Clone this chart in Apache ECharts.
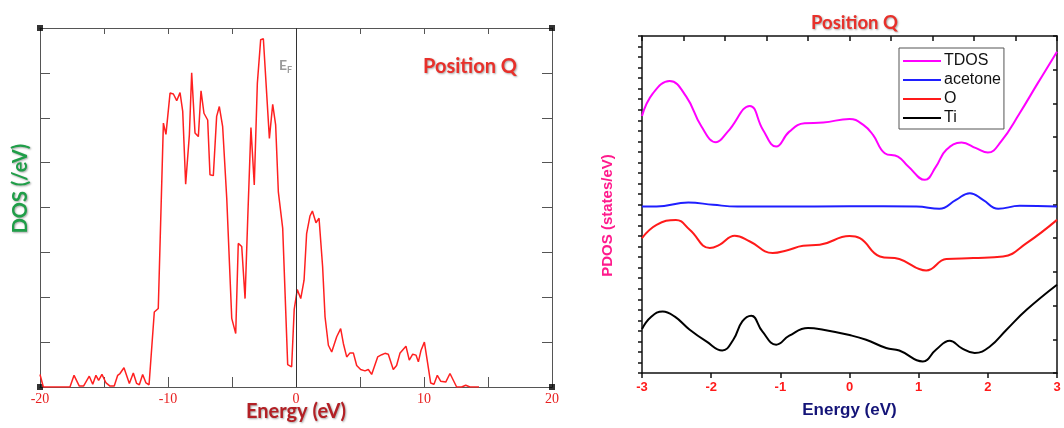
<!DOCTYPE html>
<html><head><meta charset="utf-8">
<script src="https://cdn.jsdelivr.net/npm/echarts@6/dist/echarts.min.js"></script>
<style>html,body{margin:0;padding:0;background:#fff}#c{width:1064px;height:428px}</style>
</head><body><div id="c"></div>
<script>
// ---- Left panel: total DOS ----
var dosE = [-20,-19.74,-17.66,-17.34,-16.93,-16.6,-16.15,-15.88,-15.63,-15.42,-15.16,-14.84,-14.53,-14.2,-13.93,-13.75,-13.44,-13.02,-12.71,-12.45,-12.24,-11.98,-11.72,-11.48,-11.07,-10.76,-10.36,-10.16,-9.84,-9.58,-9.32,-9.06,-8.85,-8.62,-8.33,-8.15,-7.89,-7.63,-7.42,-7.19,-6.9,-6.72,-6.46,-6.2,-5.99,-5.73,-5.41,-5.02,-4.71,-4.51,-4.24,-3.98,-3.77,-3.52,-3.26,-3.02,-2.76,-2.55,-2.08,-1.82,-1.59,-1.38,-1.04,-0.65,-0.34,-0.14,0.1,0.37,0.63,0.83,1.09,1.28,1.56,1.8,2.08,2.27,2.53,2.79,3.18,3.49,3.7,3.96,4.22,4.48,4.74,5.05,5.39,5.65,5.91,6.38,6.7,6.95,7.21,7.6,7.86,8.13,8.59,8.85,9.12,9.38,9.56,9.77,10.03,10.29,10.52,10.78,11.04,11.3,11.7,12.03,12.29,12.55,12.94,13.26,13.59,14.3];
var dosV = [0.28,0,0,0.26,0.02,0.02,0.24,0.06,0.26,0.15,0.28,0.09,0.02,0.02,0.26,0.3,0.43,0.08,0.31,0.08,0.05,0.28,0.09,0.05,1.67,1.75,5.88,5.63,6.55,6.53,6.38,6.56,6.14,4.52,5.62,7.0,5.66,5.58,6.6,6.1,5.95,4.73,4.71,6.03,6.25,5.8,4.2,1.53,1.19,3.2,3.13,1.97,3.76,5.78,4.5,6.77,7.74,7.76,5.54,6.3,5.84,4.35,3.54,0.5,0.45,1.73,2.17,1.97,2.38,3.42,3.81,3.92,3.66,3.76,2.68,1.56,0.93,0.78,1.12,1.3,0.97,0.67,0.76,0.76,0.48,0.39,0.36,0.39,0.28,0.67,0.72,0.75,0.73,0.39,0.48,0.76,0.91,0.6,0.73,0.71,0.56,0.82,1.0,0.52,0.09,0.06,0.26,0.13,0.11,0.3,0.15,0,0,0.04,0,0];
var leftCorners = [[-20,0],[20,0],[-20,8],[20,8]];

// ---- Right panel: PDOS ----
var tdosE = [-3,-2.84,-2.6,-2.36,-2.14,-1.93,-1.76,-1.44,-1.25,-1.06,-0.87,-0.65,-0.38,0.0,0.2,0.34,0.51,0.7,0.85,1.09,1.25,1.4,1.62,1.83,2.0,2.19,2.46,2.72,3.0];
var tdosV = [24.41,26.57,27.73,26.24,23.4,21.92,22.92,25.36,23.08,21.5,22.92,23.72,23.78,24.13,23.56,22.61,20.87,20.55,19.6,18.34,19.6,21.19,21.88,21.35,20.93,21.97,24.67,27.5,30.51];
var acetE = [-3,-2.79,-2.33,-1.97,-1.62,-1.0,0.0,0.97,1.3,1.54,1.74,1.93,2.15,2.46,3.0];
var acetV = [15.81,15.81,16.19,15.97,15.81,15.81,15.83,15.81,15.59,16.44,17.08,16.44,15.59,15.87,15.81];
var oE = [-3,-2.79,-2.51,-2.31,-2.02,-1.88,-1.66,-1.44,-1.11,-0.91,-0.67,-0.43,0.0,0.15,0.44,0.72,1.11,1.4,1.79,2.22,2.56,3.0];
var oV = [12.81,14.07,14.54,13.6,11.86,12.17,13.03,12.49,11.39,11.63,12.08,12.17,13.0,12.8,11.06,10.82,9.73,10.82,10.91,11.06,12.33,14.54];
var tiE = [-3,-2.87,-2.7,-2.53,-2.31,-2.07,-1.84,-1.68,-1.55,-1.42,-1.26,-1.06,-0.87,-0.6,-0.38,0.0,0.24,0.53,0.72,1.06,1.25,1.45,1.62,1.81,2.03,2.27,2.56,3.0];
var tiV = [4.17,5.31,5.85,5.37,4.11,3.0,2.14,3.16,4.9,5.44,3.95,2.69,3.54,4.27,4.11,3.6,3.16,2.37,2.14,1.1,2.21,3.06,2.37,1.9,2.52,4.11,6.0,8.38];
var seriesNames = ['TDOS','acetone','O','Ti'];
var seriesColors = ['#ff00ff','#1f1fff','#ff1a1a','#000000'];

function zip(a,b){return a.map(function(v,i){return [v,b[i]];});}

var shadow = {textShadowColor:'rgba(0,0,0,0.35)',textShadowBlur:2,textShadowOffsetX:1,textShadowOffsetY:1};
function merge(a,b){var o={};for(var k in a)o[k]=a[k];for(var k2 in b)o[k2]=b[k2];return o;}

var chart = echarts.init(document.getElementById('c'), null, {renderer:'canvas'});
var rightData = [zip(tdosE,tdosV),zip(acetE,acetV),zip(oE,oV),zip(tiE,tiV)];

var option = {
  animation:false,
  backgroundColor:'#fff',
  title:[
    {text:'Position Q',left:418,top:52,textStyle:merge({color:'#e8302a',fontFamily:'Lato',fontWeight:'bold',fontSize:20},shadow)},
    {text:'Position Q',left:806,top:9,textStyle:merge({color:'#e8302a',fontFamily:'Lato',fontWeight:'bold',fontSize:18.5},shadow)},
    {text:'{e|E}{f|F}',left:274,top:51,textStyle:{rich:{e:{color:'#9a9a9a',fontFamily:'Lato',fontSize:14,fontWeight:'bold'},f:{color:'#9a9a9a',fontFamily:'Lato',fontSize:9,fontWeight:'bold',padding:[10,0,0,0]}}}}
  ],
  legend:{
    left:899,top:48,orient:'vertical',
    data:seriesNames.map(function(n){return {name:n,icon:'rect'};}),
    itemWidth:38,itemHeight:2,itemGap:3,
    padding:[5,3,3,4],
    borderColor:'#555',borderWidth:1,backgroundColor:'#fff',
    textStyle:{fontFamily:'Liberation Sans',fontSize:16,color:'#111',padding:[0,0,0,-2]}
  },
  grid:[
    {left:40,top:28,width:512,height:359,outerBoundsMode:'none'},
    {left:642,top:36,width:415,height:337,outerBoundsMode:'none'}
  ],
  xAxis:[
    {type:'value',gridIndex:0,min:-20,max:20,interval:5,
     axisLine:{show:true,onZero:false,lineStyle:{color:'#555',width:1}},
     axisTick:{show:true,inside:true,length:10,lineStyle:{color:'#555'}},
     splitLine:{show:false},
     axisLabel:{color:'#e82020',fontFamily:'Liberation Serif',fontSize:14,margin:5,
       formatter:function(v){return v%10===0?String(v):'';}},
     name:'Energy (eV)',nameLocation:'middle',nameGap:15,nameMoveOverlap:false,
     nameTextStyle:merge({color:'#b32025',fontFamily:'Lato',fontWeight:'bold',fontSize:20},shadow)},
    {type:'value',gridIndex:0,position:'top',min:-20,max:20,interval:5,
     axisLine:{show:true,onZero:false,lineStyle:{color:'#555',width:1}},
     axisTick:{show:true,inside:true,length:6,lineStyle:{color:'#555'}},
     axisLabel:{show:false},splitLine:{show:false}},
    {type:'value',gridIndex:1,min:-3,max:3,interval:1,
     axisLine:{show:true,onZero:false,lineStyle:{color:'#111',width:1.5}},
     axisTick:{show:true,inside:false,length:5,lineStyle:{color:'#111',width:1.5}},
     splitLine:{show:false},
     axisLabel:{color:'#ff1a1a',fontFamily:'Liberation Sans',fontWeight:'bold',fontSize:13,margin:8},
     name:'Energy (eV)',nameLocation:'middle',nameGap:29,
     nameTextStyle:{color:'#141478',fontFamily:'Liberation Sans',fontWeight:'bold',fontSize:17}},
    {type:'value',gridIndex:1,position:'top',min:0,max:10,interval:1,
     axisLine:{show:true,onZero:false,lineStyle:{color:'#111',width:1.5}},
     axisTick:{show:true,inside:true,length:5,lineStyle:{color:'#111',width:1.5}},
     axisLabel:{show:false},splitLine:{show:false}}
  ],
  yAxis:[
    {type:'value',gridIndex:0,min:0,max:8,interval:1,
     axisLine:{show:true,onZero:false,lineStyle:{color:'#555',width:1}},
     axisTick:{show:true,inside:true,length:10,lineStyle:{color:'#555'}},
     axisLabel:{show:false},splitLine:{show:false},
     name:'DOS (/eV)',nameLocation:'middle',nameGap:9,
     nameTextStyle:merge({color:'#1f9e48',fontFamily:'Lato',fontWeight:'bold',fontSize:20,padding:[0,0,0,38]},shadow)},
    {type:'value',gridIndex:0,position:'right',min:0,max:8,interval:1,
     axisLine:{show:true,onZero:false,lineStyle:{color:'#555',width:1}},
     axisTick:{show:true,inside:true,length:10,lineStyle:{color:'#555'}},
     axisLabel:{show:false},splitLine:{show:false}},
    {type:'value',gridIndex:1,min:0,max:32,interval:1,
     axisLine:{show:true,onZero:false,lineStyle:{color:'#111',width:1.5}},
     axisTick:{show:true,inside:false,length:4,lineStyle:{color:'#111',width:1.5}},
     axisLabel:{show:false},splitLine:{show:false},
     name:'PDOS (states/eV)',nameLocation:'middle',nameGap:27,
     nameTextStyle:{color:'#ff1a8c',fontFamily:'Liberation Sans',fontWeight:'bold',fontSize:15,padding:[0,22,0,0]}},
    {type:'value',gridIndex:1,position:'right',min:0,max:10,interval:1,
     axisLine:{show:true,onZero:false,lineStyle:{color:'#111',width:1.5}},
     axisTick:{show:true,inside:true,length:4,lineStyle:{color:'#111',width:1.5}},
     axisLabel:{show:false},splitLine:{show:false}}
  ],
  series:[
    {type:'line',name:'DOS',xAxisIndex:0,yAxisIndex:0,data:zip(dosE,dosV),
     showSymbol:false,symbol:'none',lineStyle:{color:'#ff2020',width:1.5},itemStyle:{color:'#ff2020'},
     markLine:{silent:true,symbol:['none','none'],label:{show:false},
       lineStyle:{color:'#333',width:1,type:'solid'},data:[{xAxis:0}]}},
    {type:'scatter',name:'corners',xAxisIndex:0,yAxisIndex:0,data:leftCorners,
     symbol:'rect',symbolSize:6,itemStyle:{color:'#000'},silent:true}
  ].concat(seriesNames.map(function(n,i){
    return {type:'line',name:n,xAxisIndex:2,yAxisIndex:2,data:rightData[i],smooth:0.45,
      showSymbol:false,symbol:'none',lineStyle:{color:seriesColors[i],width:2},itemStyle:{color:seriesColors[i]}};
  }))
};
chart.setOption(option);
</script></body></html>
